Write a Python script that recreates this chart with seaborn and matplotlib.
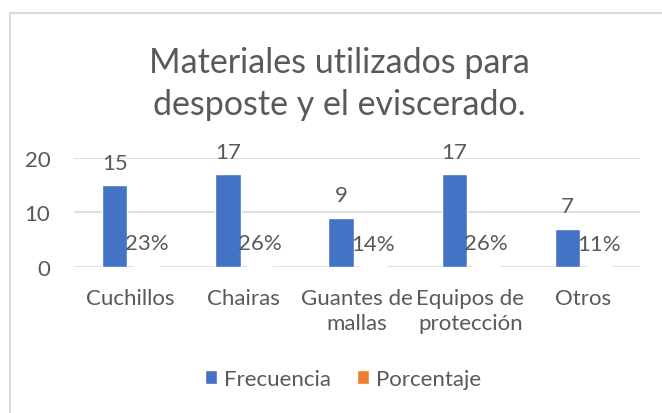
import numpy as np
import pandas as pd
import matplotlib.pyplot as plt
from matplotlib.lines import Line2D
from matplotlib.patches import Patch
import seaborn as sns

# ── datos ───────────────────────────────────────────────
materiales = ['Cuchillos', 'Chairas', 'Guantes de\nmallas',
              'Equipos de\nprotección', 'Otros']
frecuencia = [15, 17, 9, 17, 7]
porcentaje = [0.23, 0.26, 0.14, 0.26, 0.11]
series = ['Frecuencia', 'Porcentaje']

AZUL = '#4472C4'
NARANJA = '#ED7D31'
GRIS_TEXTO = '#595959'
GRIS_LINEA = '#D9D9D9'

sns.set_theme(style='white')
plt.rcParams['font.family'] = ['Lato', 'DejaVu Sans']

df = pd.DataFrame({
    'Material': materiales * 2,
    'Serie': [series[0]] * len(materiales) + [series[1]] * len(materiales),
    'Valor': frecuencia + porcentaje,
})

fig = plt.figure(figsize=(6.62, 4.14), dpi=100)
fig.patch.set_facecolor('white')
ax = fig.add_axes([74 / 662, 1 - 268 / 414, 566 / 662, 109 / 414])

sns.barplot(data=df, x='Material', y='Valor', hue='Serie',
            palette=[AZUL, NARANJA], width=0.56, gap=0.2,
            saturation=1, legend=False, ax=ax, zorder=3)

ax.set_axisbelow(True)
ax.set_ylim(0, 20)
ax.set_yticks([0, 10, 20])
ax.set_xlim(-0.5, len(materiales) - 0.5)
ax.grid(axis='y', color=GRIS_LINEA, linewidth=1.2)
for s in ax.spines.values():
    s.set_visible(False)
ax.set_xlabel('')
ax.set_ylabel('')
ax.tick_params(axis='both', length=0, labelsize=16, colors=GRIS_TEXTO)
ax.tick_params(axis='x', pad=15)
ax.tick_params(axis='y', pad=17)
for lbl in ax.get_xticklabels():
    lbl.set_verticalalignment('top')
    lbl.set_linespacing(1.3)

# etiquetas de datos
ax.bar_label(ax.containers[0], labels=[str(v) for v in frecuencia],
             padding=9, fontsize=16, color=GRIS_TEXTO)
ax.bar_label(ax.containers[1], labels=[f'{v:.0%}' for v in porcentaje],
             padding=9, fontsize=16, color=GRIS_TEXTO)

fig.text(0.513, 0.797, 'Materiales utilizados para\ndesposte y el eviscerado.',
         ha='center', va='center', fontsize=24.5, color=GRIS_TEXTO,
         linespacing=1.4)

handles = [Patch(facecolor=AZUL), Patch(facecolor=NARANJA)]
fig.legend(handles, series, loc='center', bbox_to_anchor=(0.518, 0.082),
           ncol=2, frameon=False, fontsize=16, handlelength=0.55,
           handleheight=0.55, handletextpad=0.3, columnspacing=1.2,
           labelcolor=GRIS_TEXTO)

# borde del gráfico (solo se ven arriba e izquierda)
fig.add_artist(Line2D([10 / 662, 1], [1 - 14 / 414, 1 - 14 / 414],
                      color=GRIS_LINEA, linewidth=1.5, transform=fig.transFigure))
fig.add_artist(Line2D([10 / 662, 10 / 662], [0, 1 - 14 / 414],
                      color=GRIS_LINEA, linewidth=1.5, transform=fig.transFigure))

fig.savefig('out.png', dpi=100, facecolor='white')
